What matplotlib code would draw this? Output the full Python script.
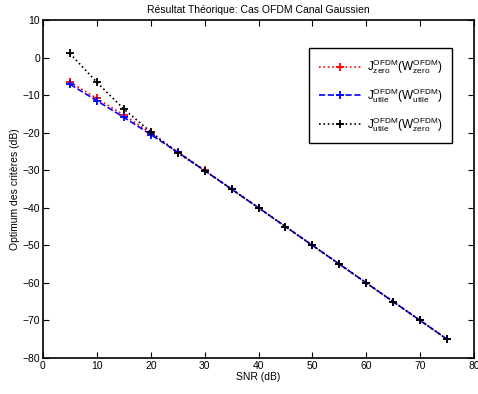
import numpy as np
import matplotlib
matplotlib.use("Agg")
import matplotlib.pyplot as plt

plt.rcParams['font.family'] = ['Liberation Sans', 'DejaVu Sans']
plt.rcParams['mathtext.fontset'] = 'custom'
plt.rcParams['mathtext.rm'] = 'Liberation Sans'
plt.rcParams['mathtext.it'] = 'Liberation Sans'

# values
snr = [5, 10, 15, 20, 25, 30, 35, 40, 45, 50, 55, 60, 65, 70, 75]
j_zero_zero = [-6.5, -10.9, -15.3, -20.1, -25.05, -30.02, -35.0, -40.0, -45.0,
               -50.0, -55.0, -60.0, -65.0, -70.0, -75.0]
j_utile_utile = [-7.1, -11.5, -15.9, -20.5, -25.2, -30.1, -35.05, -40.0, -45.0,
                 -50.0, -55.0, -60.0, -65.0, -70.0, -75.0]
j_utile_zero = [1.1, -6.6, -13.7, -19.8, -25.4, -30.1, -35.05, -40.0, -45.0,
                -50.0, -55.0, -60.0, -65.0, -70.0, -75.0]

labels = [r'$\mathrm{J^{OFDM}_{zero}(W^{OFDM}_{zero})}$',
          r'$\mathrm{J^{OFDM}_{utile}(W^{OFDM}_{utile})}$',
          r'$\mathrm{J^{OFDM}_{utile}(W^{OFDM}_{zero})}$']

fig = plt.figure(figsize=(4.78, 3.94), dpi=100)
ax = fig.add_axes([43 / 478, 1 - 358 / 394, (474 - 43) / 478, (358 - 20) / 394])

ax.plot(snr, j_zero_zero, 'r:', marker='+', ms=6, mew=1.3, lw=1.2, label=labels[0])
ax.plot(snr, j_utile_utile, 'b--', marker='+', ms=6, mew=1.3, lw=1.2, label=labels[1])
ax.plot(snr, j_utile_zero, 'k:', marker='+', ms=6, mew=1.3, lw=1.2, label=labels[2])

ax.set_xlim(0, 80)
ax.set_ylim(-80, 10)
ax.set_xticks(range(0, 81, 10))
ax.set_yticks(range(-80, 11, 10))
ax.tick_params(direction='in', top=True, right=True, labelsize=7.5, length=4, pad=2)
for s in ax.spines.values():
    s.set_linewidth(1.2)

ax.set_xlabel('SNR (dB)', fontsize=7.5, labelpad=1)
ax.set_ylabel('Optimum des critères (dB)', fontsize=7.5, labelpad=2)
ax.set_title('Résultat Théorique: Cas OFDM Canal Gaussien', fontsize=7.5, pad=5)

leg = ax.legend(loc='upper right', bbox_to_anchor=((452 - 43) / 431, 1 - (48 - 20) / 338),
                borderaxespad=0, fontsize=8.5, fancybox=False, edgecolor='k',
                framealpha=1, handlelength=3.6, labelspacing=0.85, borderpad=0.8,
                handletextpad=0.5)
leg.get_frame().set_linewidth(1.0)

fig.savefig('out.png', dpi=100)
